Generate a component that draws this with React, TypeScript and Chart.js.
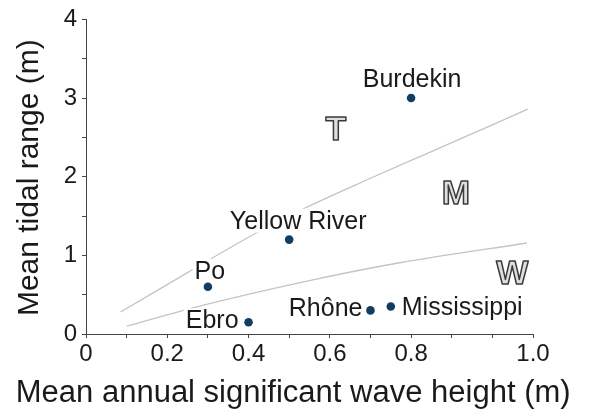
import React, { useEffect, useRef } from 'react';
import { Chart, registerables } from 'chart.js';

Chart.register(...registerables);

// ---- data ----
const rivers = ['Burdekin', 'Yellow River', 'Po', 'Ebro', 'Rhône', 'Mississippi'];
const waveHeight = [0.8, 0.5, 0.3, 0.4, 0.7, 0.75];
const tidalRange = [3.0, 1.2, 0.6, 0.15, 0.3, 0.35];

// boundary curves (tide / mixed, mixed / wave)
const upperX = [0.085, 0.25, 0.4, 0.526, 0.7, 0.85, 1.0, 1.087];
const upperY = [0.28, 0.78, 1.23, 1.57, 1.98, 2.32, 2.66, 2.86];
const lowerX = [0.1, 0.287, 0.55, 0.772, 1.085];
const lowerY = [0.1, 0.365, 0.68, 0.906, 1.157];

const regionLetters = ['T', 'M', 'W'];
const regionX = [0.615, 0.91, 1.049];
const regionY = [2.62, 1.805, 0.79];

const xTickLabels: Record<number, string> = { 0: '0', 2: '0.2', 4: '0.4', 6: '0.6', 8: '0.8', 11: '1.0' };
const yTickLabels: Record<number, string> = { 0: '0', 2: '1', 4: '2', 6: '3', 8: '4' };

// label placement relative to each point (align, dx, dy in px)
const labelPlacement = [
  { align: 'center', dx: 1, dy: -11 },
  { align: 'center', dx: 9, dy: -11 },
  { align: 'center', dx: 2, dy: -8 },
  { align: 'right', dx: -10, dy: 6 },
  { align: 'right', dx: -8, dy: 6 },
  { align: 'left', dx: 11, dy: 9 },
];

const FONT = '"Liberation Sans", Arial, Helvetica, sans-serif';
const TEXT = '#1a1a1a';

const annotations = {
  id: 'annotations',
  beforeDatasetDraw(chart: any, args: any) {
    if (args.index !== 0) return;
    const { ctx } = chart;
    const xs = chart.scales.x;
    const ys = chart.scales.y;
    ctx.save();
    ctx.font = `25px ${FONT}`;
    ctx.textBaseline = 'alphabetic';
    ctx.textAlign = 'left';
    rivers.forEach((name, i) => {
      const px = xs.getPixelForValue(waveHeight[i]);
      const py = ys.getPixelForValue(tidalRange[i]);
      const p = labelPlacement[i];
      const w = ctx.measureText(name).width;
      const left = p.align === 'center' ? px + p.dx - w / 2 : p.align === 'right' ? px + p.dx - w : px + p.dx;
      const base = py + p.dy;
      ctx.fillStyle = '#ffffff';
      ctx.fillRect(left - 2, base - 20, w + 4, 24);
      ctx.fillStyle = TEXT;
      ctx.fillText(name, left, base);
    });
    // region letters
    const size = 34;
    ctx.font = `bold ${size}px ${FONT}`;
    ctx.textAlign = 'center';
    ctx.lineWidth = 1.5;
    ctx.lineJoin = 'round';
    ctx.strokeStyle = '#3a3a3a';
    ctx.fillStyle = '#dedede';
    regionLetters.forEach((l, i) => {
      const px = xs.getPixelForValue(regionX[i]);
      const py = ys.getPixelForValue(regionY[i]) + size * 0.716 / 2;
      ctx.fillText(l, px, py);
      ctx.strokeText(l, px, py);
    });
    ctx.restore();
  },
  afterDraw(chart: any) {
    const { ctx, chartArea } = chart;
    const xs = chart.scales.x;
    ctx.save();
    ctx.fillStyle = TEXT;
    ctx.textBaseline = 'alphabetic';
    ctx.textAlign = 'center';
    ctx.font = `31px ${FONT}`;
    const cx = (xs.getPixelForValue(0) + xs.getPixelForValue(1.0)) / 2 + 4;
    ctx.fillText('Mean annual significant wave height (m)', cx, chartArea.bottom + 68);
    ctx.font = `30px ${FONT}`;
    ctx.translate(38, (chartArea.top + chartArea.bottom) / 2 + 1);
    ctx.rotate(-Math.PI / 2);
    ctx.fillText('Mean tidal range (m)', 0, 0);
    ctx.restore();
  },
};

export default function App() {
  const ref = useRef<HTMLCanvasElement | null>(null);

  useEffect(() => {
    document.body.style.margin = '0';
    const canvas = ref.current;
    if (!canvas) return;
    const chart = new Chart(canvas, {
      type: 'scatter',
      data: {
        datasets: [
          {
            label: 'Rivers',
            data: waveHeight.map((x, i) => ({ x, y: tidalRange[i] })),
            backgroundColor: '#123d60',
            borderColor: '#123d60',
            pointRadius: 4.3,
            pointBorderWidth: 0,
            order: 1,
          },
          {
            label: 'upper',
            type: 'line',
            data: upperX.map((x, i) => ({ x, y: upperY[i] })),
            borderColor: '#c4c4c4',
            borderWidth: 1.3,
            pointRadius: 0,
            cubicInterpolationMode: 'monotone',
            fill: false,
            order: 2,
          },
          {
            label: 'lower',
            type: 'line',
            data: lowerX.map((x, i) => ({ x, y: lowerY[i] })),
            borderColor: '#c4c4c4',
            borderWidth: 1.3,
            pointRadius: 0,
            cubicInterpolationMode: 'monotone',
            fill: false,
            order: 3,
          },
        ] as any,
      },
      options: {
        animation: false,
        responsive: false,
        devicePixelRatio: 1,
        layout: { padding: { top: 16, right: 58, left: 0, bottom: 0 } },
        plugins: { legend: { display: false }, tooltip: { enabled: false } },
        scales: {
          x: {
            type: 'linear',
            min: 0,
            max: 1.1,
            afterFit: (s: any) => { s.height = 80; },
            border: { display: true, color: '#444', width: 1 },
            grid: { display: true, drawOnChartArea: false, drawTicks: true, tickLength: 4, color: '#444' },
            ticks: {
              stepSize: 0.1,
              autoSkip: false,
              maxRotation: 0,
              padding: 2,
              color: TEXT,
              font: { family: FONT, size: 24 },
              callback: (v: any) => xTickLabels[Math.round(Number(v) * 10)] ?? '',
            },
          },
          y: {
            type: 'linear',
            min: 0,
            max: 4,
            afterFit: (s: any) => { s.width = 86; },
            border: { display: true, color: '#444', width: 1 },
            grid: { display: true, drawOnChartArea: false, drawTicks: true, tickLength: 4, color: '#444' },
            ticks: {
              stepSize: 0.5,
              autoSkip: false,
              padding: 5,
              color: TEXT,
              font: { family: FONT, size: 24 },
              callback: (v: any) => yTickLabels[Math.round(Number(v) * 2)] ?? '',
            },
          },
        },
      } as any,
      plugins: [annotations],
    });
    return () => chart.destroy();
  }, []);

  return (
    <div style={{ width: 591, height: 414 }}>
      <canvas ref={ref} width={591} height={414} style={{ display: 'block' }} />
    </div>
  );
}
